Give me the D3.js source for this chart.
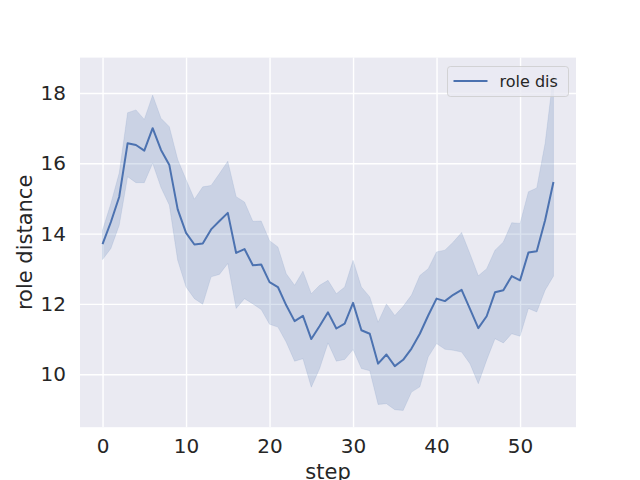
<!DOCTYPE html>
<html>
<head>
<meta charset="utf-8">
<script src="https://cdn.jsdelivr.net/npm/d3@7"></script>
<style>
  body { margin: 0; background: #fff; }
  svg { display: block; font-family: 'DejaVu Sans', sans-serif; }
</style>
</head>
<body>
<div id="chart"></div>
<script>
// data
var steps = [0, 1, 2, 3, 4, 5, 6, 7, 8, 9, 10, 11, 12, 13, 14, 15, 16, 17, 18, 19,
  20, 21, 22, 23, 24, 25, 26, 27, 28, 29, 30, 31, 32, 33, 34, 35, 36, 37, 38, 39,
  40, 41, 42, 43, 44, 45, 46, 47, 48, 49, 50, 51, 52, 53, 54];
var roleDis = [13.70, 14.33, 15.05, 16.57, 16.52, 16.36, 17.00, 16.38, 15.95, 14.69,
  14.02, 13.69, 13.72, 14.12, 14.36, 14.59, 13.45, 13.56, 13.10, 13.12,
  12.62, 12.48, 11.96, 11.51, 11.66, 11.00, 11.37, 11.76, 11.30, 11.44,
  12.03, 11.25, 11.15, 10.30, 10.56, 10.23, 10.41, 10.73, 11.15, 11.67,
  12.15, 12.08, 12.26, 12.40, 11.86, 11.31, 11.65, 12.33, 12.39, 12.79,
  12.67, 13.46, 13.50, 14.38, 15.47];
var ciUpper = [14.10, 14.86, 15.73, 17.44, 17.52, 17.25, 17.94, 17.28, 17.04, 16.11,
  15.54, 14.98, 15.33, 15.37, 15.71, 16.06, 15.05, 14.90, 14.35, 14.36,
  13.80, 13.62, 12.86, 12.53, 12.93, 12.29, 12.53, 12.67, 12.29, 12.48,
  13.24, 12.48, 12.20, 11.48, 12.00, 11.67, 11.93, 12.25, 12.81, 13.00,
  13.48, 13.53, 13.76, 14.03, 13.43, 12.80, 13.00, 13.53, 13.76, 14.31,
  14.29, 15.19, 15.30, 16.57, 18.53];
var ciLower = [13.26, 13.58, 14.24, 15.62, 15.45, 15.45, 16.00, 15.31, 14.81, 13.24,
  12.48, 12.15, 11.99, 12.77, 12.84, 13.15, 11.87, 12.15, 12.00, 11.84,
  11.42, 11.34, 10.91, 10.37, 10.44, 9.63, 10.16, 10.89, 10.37, 10.42,
  10.70, 10.16, 10.10, 9.14, 9.16, 8.99, 8.97, 9.49, 9.64, 10.49,
  10.87, 10.71, 10.68, 10.63, 10.30, 9.73, 10.40, 11.01, 10.89, 11.15,
  11.08, 11.87, 11.77, 12.39, 12.79];
var xTicks = [0, 10, 20, 30, 40, 50];
var yTicks = [10, 12, 14, 16, 18];
var seriesName = 'role dis';

var W = 640, H = 480;
var margin = {top: 57.6, right: 64, bottom: 52.8, left: 80};
var width = W - margin.left - margin.right;
var height = H - margin.top - margin.bottom;
var blue = '#4c72b0';
var ink = '#262626';

function drawChart () {
  var svg = d3.select('#chart').append('svg')
    .attr('width', W)
    .attr('height', H);

  // matplotlib style 5% margins on both axes
  var xPad = (d3.max(steps) - d3.min(steps)) * 0.05;
  var yLo = d3.min(ciLower), yHi = d3.max(ciUpper);
  var yPad = (yHi - yLo) * 0.05;

  var xScale = d3.scaleLinear()
    .domain([d3.min(steps) - xPad, d3.max(steps) + xPad])
    .range([0, width]);
  var yScale = d3.scaleLinear()
    .domain([yLo - yPad, yHi + yPad])
    .range([height, 0]);

  var g = svg.append('g')
    .attr('transform', 'translate(' + margin.left + ',' + margin.top + ')');

  // darkgrid background
  g.append('rect')
    .attr('width', width)
    .attr('height', height)
    .attr('fill', '#eaeaf2');

  // grid lines via axes with full length ticks
  var xGrid = d3.axisBottom(xScale).tickValues(xTicks).tickSize(-height).tickFormat('');
  var yGrid = d3.axisLeft(yScale).tickValues(yTicks).tickSize(-width).tickFormat('');
  g.append('g').attr('class', 'grid')
    .attr('transform', 'translate(0,' + height + ')')
    .call(xGrid);
  g.append('g').attr('class', 'grid')
    .call(yGrid);
  g.selectAll('.grid .domain').remove();
  g.selectAll('.grid line')
    .attr('stroke', '#ffffff')
    .attr('stroke-width', 1.4);

  var rows = steps.map(function (s, i) {
    return {step: s, value: roleDis[i], lo: ciLower[i], hi: ciUpper[i]};
  });

  // confidence band
  var area = d3.area()
    .x(function (d) { return xScale(d.step); })
    .y0(function (d) { return yScale(d.lo); })
    .y1(function (d) { return yScale(d.hi); });
  g.append('path')
    .datum(rows)
    .attr('d', area)
    .attr('fill', blue)
    .attr('fill-opacity', 0.2)
    .attr('stroke', blue)
    .attr('stroke-opacity', 0.12)
    .attr('stroke-width', 1);

  // mean line
  var line = d3.line()
    .x(function (d) { return xScale(d.step); })
    .y(function (d) { return yScale(d.value); });
  g.append('path')
    .datum(rows)
    .attr('d', line)
    .attr('fill', 'none')
    .attr('stroke', blue)
    .attr('stroke-width', 2)
    .attr('stroke-linejoin', 'round');

  // tick labels, no tick marks
  var xAxis = d3.axisBottom(xScale).tickValues(xTicks).tickSize(0).tickPadding(12);
  var yAxis = d3.axisLeft(yScale).tickValues(yTicks).tickSize(0).tickPadding(14);
  var xa = g.append('g')
    .attr('transform', 'translate(0,' + height + ')')
    .call(xAxis);
  var ya = g.append('g').call(yAxis);
  [xa, ya].forEach(function (a) {
    a.select('.domain').remove();
    a.selectAll('text')
      .attr('fill', ink)
      .style('font-size', '20px')
      .style('font-family', "'DejaVu Sans', sans-serif");
  });

  // axis titles
  svg.append('text')
    .attr('x', margin.left + width / 2)
    .attr('y', 479)
    .attr('text-anchor', 'middle')
    .attr('fill', ink)
    .style('font-size', '21px')
    .text('step');
  svg.append('text')
    .attr('transform', 'translate(32,' + (margin.top + height / 2) + ') rotate(-90)')
    .attr('text-anchor', 'middle')
    .attr('fill', ink)
    .style('font-size', '21px')
    .text('role distance');

  // legend
  var leg = svg.append('g').attr('transform', 'translate(447.5,66.5)');
  leg.append('rect')
    .attr('width', 121)
    .attr('height', 30)
    .attr('rx', 3)
    .attr('fill', '#eaeaf2')
    .attr('fill-opacity', 0.8)
    .attr('stroke', '#cccccc')
    .attr('stroke-opacity', 0.8)
    .attr('stroke-width', 1);
  leg.append('line')
    .attr('x1', 6).attr('x2', 40)
    .attr('y1', 14.5).attr('y2', 14.5)
    .attr('stroke', blue)
    .attr('stroke-width', 2);
  leg.append('text')
    .attr('x', 52)
    .attr('y', 20.5)
    .attr('fill', ink)
    .style('font-size', '16px')
    .text(seriesName);
}

window.addEventListener('load', function () {
  drawChart();
});
</script>
</body>
</html>
